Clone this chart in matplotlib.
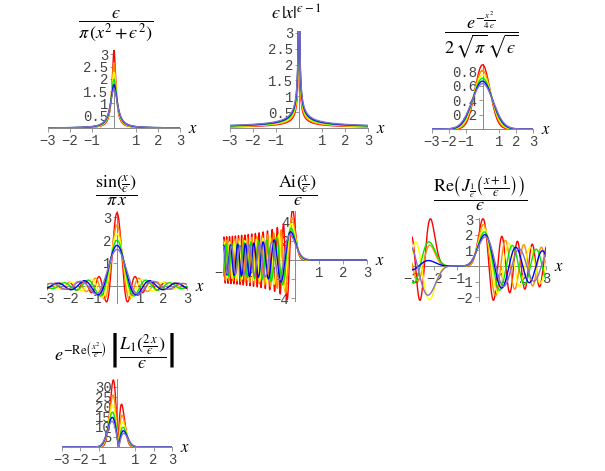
import numpy as np
import matplotlib
matplotlib.use("Agg")
import matplotlib.pyplot as plt

plt.rcParams['mathtext.fontset'] = 'stix'

# widths of the nascent delta functions, one curve each
eps = [0.1, 0.12, 0.14, 0.16, 0.18, 0.2]
colors = ['#ff0000', '#ff9000', '#ffff00', '#00e800', '#0000ff', '#8470c4']

titles = [
    r'$\dfrac{ϵ}{\pi\,(x^2+ϵ^2)}$',
    r'$ϵ\,|x|^{ϵ-1}$',
    r'$\dfrac{e^{-\frac{x^2}{4\,ϵ}}}{2\,\sqrt{\pi}\,\sqrt{ϵ}}$',
    r'$\dfrac{\mathrm{sin}(\frac{x}{ϵ})}{\pi\,x}$',
    r'$\dfrac{\mathrm{Ai}(\frac{x}{ϵ})}{ϵ}$',
    r'$\dfrac{\mathrm{Re}\left(J_{\frac{1}{ϵ}}\left(\frac{x+1}{ϵ}\right)\right)}{ϵ}$',
    r'$e^{-\mathrm{Re}\left(\frac{x^2}{ϵ}\right)}\,\left|\dfrac{L_1(\frac{2\,x}{ϵ})}{ϵ}\right|$',
]

xticks = [-3, -2, -1, 1, 2, 3]
yticks1 = [0.5, 1, 1.5, 2, 2.5, 3]
yticks2 = [0.5, 1, 1.5, 2, 2.5, 3]
yticks3 = [0.2, 0.4, 0.6, 0.8]
yticks4 = [1, 2, 3]
yticks5 = [-4, -2, 2, 4]
yticks6 = [-2, -1, 1, 2, 3]
yticks7 = [5, 10, 15, 20, 25, 30]
ylims = [(-0.02, 3.2), (0, 3.05), (0, 0.9), (-0.72, 3.25), (-4.3, 5.2), (-2.25, 3.1), (0, 34)]


def besselj(nu, z):
    # Schlaefli integral, z > 0
    z = np.asarray(z, float)
    th = np.linspace(0, np.pi, 4001)
    t = np.linspace(0, 8, 8001)
    out = np.empty_like(z)
    for i in range(0, len(z), 150):
        zz = z[i:i + 150, None]
        a = np.trapezoid(np.cos(nu * th - zz * np.sin(th)), th, axis=1) / np.pi
        b = np.trapezoid(np.exp(-zz * np.sinh(t) - nu * t), t, axis=1)
        out[i:i + 150] = a - np.sin(nu * np.pi) / np.pi * b
    return out


def airy(z):
    z = np.asarray(z, float)
    out = np.zeros_like(z)
    s = np.abs(z) <= 5
    zs = z[s]
    f = np.ones_like(zs)
    g = zs.copy()
    tf = f.copy()
    tg = g.copy()
    for k in range(1, 45):
        tf = tf * zs**3 / ((3 * k) * (3 * k - 1))
        tg = tg * zs**3 / ((3 * k + 1) * (3 * k))
        f += tf
        g += tg
    out[s] = 0.355028053887817 * f - 0.258819403792807 * g
    p = z > 5
    zeta = 2 / 3 * z[p]**1.5
    t = np.linspace(0, 6, 4001)
    K = np.trapezoid(np.exp(-zeta[:, None] * np.cosh(t)) * np.cosh(t / 3), t, axis=1)
    out[p] = np.sqrt(z[p] / 3) / np.pi * K
    n = z < -5
    sn = -z[n]
    zeta = 2 / 3 * sn**1.5
    out[n] = np.sqrt(sn) / 3 * (besselj(1 / 3, zeta) + besselj(-1 / 3, zeta))
    return out


def f1(x, e):
    return e / (np.pi * (x**2 + e**2))


def f2(x, e):
    return e * np.abs(x)**(e - 1)


def f3(x, e):
    return np.exp(-x**2 / (4 * e)) / (2 * np.sqrt(np.pi) * np.sqrt(e))


def f4(x, e):
    return np.sinc(x / (np.pi * e)) / (np.pi * e)


def f5(x, e):
    return airy(x / e) / e


def f6(x, e):
    nu = 1 / e
    z = (x + 1) / e
    j = besselj(nu, np.maximum(np.abs(z), 1e-12))
    return np.where(z < 0, np.cos(np.pi * nu) * j, j) / e


def f7(x, e):
    return np.exp(-x**2 / e) * np.abs(1 - 2 * x / e) / e


funcs = [f1, f2, f3, f4, f5, f6, f7]
yticks = [yticks1, yticks2, yticks3, yticks4, yticks5, yticks6, yticks7]

# pixel layout: x of -3, x of 3, y pixel of zero, pixels per y unit
layout = [
    (48, 180, 128, 24.5),
    (230, 368, 128, 31.7),
    (432, 533, 129, 72.0),
    (47, 187, 286, 23.0),
    (223, 367, 260, 9.5),
    (412, 546, 266, 15.6),
    (62, 172, 447, 2.0),
]
# title centre (x, y) in pixels
tpos = [(116, 26), (296, 14), (481, 35), (116, 191), (298, 191), (480, 193), (115, 351)]

W, H = 605, 471
fig = plt.figure(figsize=(W / 100, H / 100), dpi=100)

for i in range(7):
    xl, xr, y0, py = layout[i]
    lo, hi = ylims[i]
    top = y0 - hi * py
    bot = y0 - lo * py
    ax = fig.add_axes([xl / W, 1 - bot / H, (xr - xl) / W, (bot - top) / H])
    ax.set_xlim(-3, 3)
    ax.set_ylim(lo, hi)
    ax.patch.set_visible(False)
    ax.set_axisbelow(True)
    x = np.linspace(-3, 3, 1500 if i == 4 else 1201)
    if i == 1:
        x = x[np.abs(x) > 1e-6]
    with np.errstate(divide='ignore', invalid='ignore'):
        for e, c in zip(eps, colors):
            ax.plot(x, funcs[i](x, e), color=c, lw=1.0, zorder=2)
    for s in ['top', 'right']:
        ax.spines[s].set_visible(False)
    for s in ['left', 'bottom']:
        ax.spines[s].set_position('zero')
        ax.spines[s].set_color('#888888')
        ax.spines[s].set_linewidth(0.7)
        ax.spines[s].set_zorder(1)
    ax.set_xticks(xticks)
    ax.set_xticklabels([str(v).replace('-', '\u2212') for v in xticks])
    ax.set_yticks(yticks[i])
    ax.set_yticklabels([('%g' % v).replace('-', '\u2212') for v in yticks[i]])
    ax.tick_params(length=3, width=0.6, color='#888888', pad=1,
                   labelsize=10, labelcolor='#444444')
    for lab in ax.get_xticklabels() + ax.get_yticklabels():
        lab.set_family('Liberation Mono')
    fig.text((xr + 13) / W, 1 - y0 / H, r'$x$', fontsize=12, ha='center', va='center')
    fig.text(tpos[i][0] / W, 1 - tpos[i][1] / H, titles[i], fontsize=13,
             ha='center', va='center')

fig.savefig('out.png', dpi=100)
